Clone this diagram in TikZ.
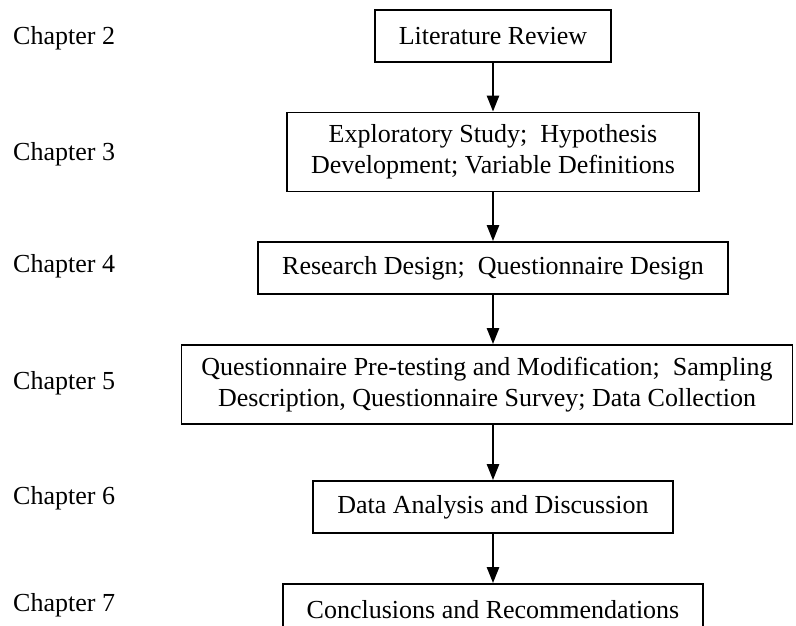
\documentclass[tikz,border=0pt]{standalone}
\usepackage{fontspec}
\setmainfont{Liberation Serif}
\usetikzlibrary{arrows.meta, positioning}

\begin{document}
\begin{tikzpicture}[x=1pt, y=-1pt,
      stage/.style={draw, line width=1.8pt, align=center, inner xsep=24pt,
         minimum height=52pt, font=\fontsize{26}{31}\selectfont},
      twoline/.style={minimum height=79pt},
      chap/.style={anchor=west, inner sep=0pt, font=\fontsize{26}{31}\selectfont},
      flow/.style={-{Triangle[length=16pt, width=12pt]}, line width=2.5pt}]
   \useasboundingbox (0,0) rectangle (796,625);
   \clip (0,0) rectangle (796,625);
   % Stages
   \node[stage] (litrev) at (493,36) {Literature Review};
   \node[stage, twoline] (explore) at (493,152)
      {Exploratory Study;\ \ Hypothesis\\Development; Variable Definitions};
   \node[stage] (design) at (493,268) {Research Design;\ \ Questionnaire Design};
   \node[stage, twoline, inner xsep=20pt] (survey) at (487,384.5)
      {Questionnaire Pre-testing and Modification;\ \ Sampling\\
       Description, Questionnaire Survey; Data Collection};
   \node[stage] (analysis) at (493,507) {Data Analysis and Discussion};
   \node[stage] (concl) at (493,610) {Conclusions and Recommendations};
   % Chapter labels
   \node[chap] (ch2) at (13,38) {Chapter 2};
   \node[chap] (ch3) at (13,154) {Chapter 3};
   \node[chap] (ch4) at (13,266) {Chapter 4};
   \node[chap] (ch5) at (13,383) {Chapter 5};
   \node[chap] (ch6) at (13,498) {Chapter 6};
   \node[chap] (ch7) at (13,605) {Chapter 7};
   % Flow arrows
   \draw[flow] (litrev) -- (explore);
   \draw[flow] (explore) -- (design);
   \draw[flow] (design) -- (survey.north -| design.south);
   \draw[flow] (survey.south -| analysis.north) -- (analysis);
   \draw[flow] (analysis) -- (concl);
\end{tikzpicture}
\end{document}
